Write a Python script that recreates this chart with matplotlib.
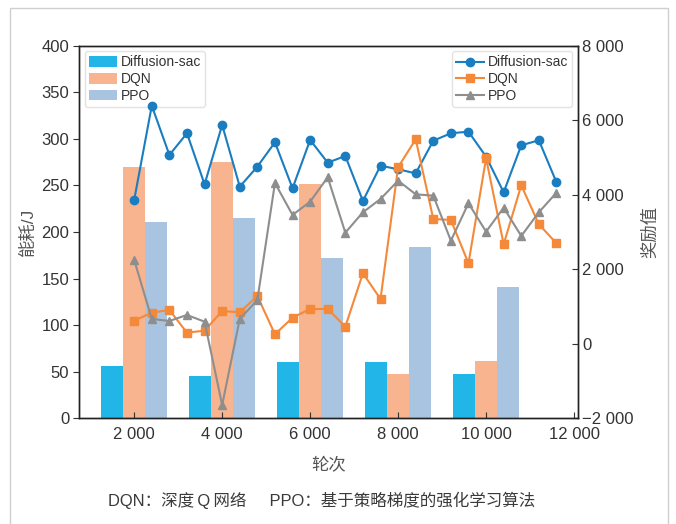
import matplotlib
matplotlib.use("Agg")
import matplotlib.pyplot as plt
from matplotlib.patches import Rectangle
from matplotlib.ticker import FuncFormatter, MultipleLocator
import numpy as np

plt.rcParams['font.family'] = ['Liberation Sans', 'Noto Sans CJK SC', 'DejaVu Sans']
plt.rcParams['axes.unicode_minus'] = True

# Energy consumption (bars) at evaluation checkpoints
bar_rounds = [2000, 4000, 6000, 8000, 10000]
energy_diffusion = [56, 45, 60, 60, 48]
energy_dqn = [270, 275, 252, 48, 62]
energy_ppo = [211, 215, 172, 184, 141]

# Reward curves, sampled every 400 rounds
reward_rounds = list(range(2000, 11601, 400))
reward_diffusion = [3860, 6390, 5067, 5650, 4280, 5873, 4217, 4754, 5408, 4173,
                    5470, 4861, 5040, 3833, 4781, 4683, 4575, 5450, 5650, 5693,
                    5022, 4066, 5327, 5462, 4335]
reward_dqn = [620, 835, 907, 298, 352, 880, 845, 1283, 255, 701,
              934, 934, 459, 1892, 1202, 4737, 5489, 3350, 3323, 2160,
              4979, 2670, 4254, 3207, 2697]
reward_ppo = [2249, 666, 612, 773, 593, -1643, 666, 1175, 4316, 3457,
              3814, 4469, 2982, 3529, 3886, 4378, 4012, 3975, 2767, 3771,
              3009, 3653, 2893, 3529, 4055]

x_ticks = [2000, 4000, 6000, 8000, 10000, 12000]

c_bar_diff = '#22B5E8'
c_bar_dqn = '#F7B48E'
c_bar_ppo = '#A9C4E0'
c_line_diff = '#1A7DC0'
c_line_dqn = '#F5893A'
c_line_ppo = '#8E8E8E'
text_c = '#333333'

W, H = 676, 524
fig = plt.figure(figsize=(W / 100, H / 100), dpi=100)

# light outer frame
fig.patches.append(Rectangle((10 / W, -0.01), 658 / W, (H - 8) / H + 0.01,
                             transform=fig.transFigure, fill=False,
                             edgecolor='#CFCFCF', linewidth=1.0))

ax = fig.add_axes([79 / W, (H - 418.3) / H, 499 / W, 372.6 / H])
ax2 = ax.twinx()

bw = 500
bx = np.array(bar_rounds, dtype=float)
ax.bar(bx - bw, energy_diffusion, width=bw, color=c_bar_diff, label='Diffusion-sac')
ax.bar(bx, energy_dqn, width=bw, color=c_bar_dqn, label='DQN')
ax.bar(bx + bw, energy_ppo, width=bw, color=c_bar_ppo, label='PPO')

ax2.plot(reward_rounds, reward_diffusion, color=c_line_diff, marker='o',
         markersize=6, linewidth=1.5, label='Diffusion-sac')
ax2.plot(reward_rounds, reward_dqn, color=c_line_dqn, marker='s',
         markersize=5.5, linewidth=1.5, label='DQN')
ax2.plot(reward_rounds, reward_ppo, color=c_line_ppo, marker='^',
         markersize=6, linewidth=1.5, label='PPO')

ax.set_xlim(745, 12090)
ax.set_ylim(0, 400)
ax2.set_ylim(-2000, 8000)
ax.set_xticks(x_ticks)
ax.yaxis.set_major_locator(MultipleLocator(50))
ax2.set_yticks([-2000, 0, 2000, 4000, 6000, 8000])


def thousands(v, pos):
    s = f"{abs(v):,.0f}".replace(",", " ")
    return ("\u2212" + s) if v < 0 else s


ax.xaxis.set_major_formatter(FuncFormatter(thousands))
ax2.yaxis.set_major_formatter(FuncFormatter(thousands))

ax.tick_params(axis='y', direction='out', length=4, labelsize=12,
               colors=text_c, pad=3)
ax.tick_params(axis='x', direction='in', length=4, labelsize=12,
               colors=text_c, pad=6)
ax2.tick_params(axis='y', direction='in', length=4, labelsize=12,
                colors=text_c, pad=3)
for a in (ax, ax2):
    for s in a.spines.values():
        s.set_color('#222222')
        s.set_linewidth(1.0)

ax.set_ylabel('能耗/J', fontsize=12.5, color='#555555', labelpad=4)
ax2.set_ylabel('奖励值', fontsize=12.5, color='#555555', labelpad=6)
ax.set_xlabel('轮次', fontsize=12.5, color='#555555', labelpad=11)

leg1 = ax.legend(loc='upper left', fontsize=10, frameon=True, fancybox=True,
                 handlelength=2.0, handleheight=0.8, borderpad=0.3,
                 labelspacing=0.2, handletextpad=0.3, borderaxespad=0.4)
leg1.get_frame().set_edgecolor('#DDDDDD')
leg2 = ax2.legend(loc='upper right', fontsize=10, frameon=True, fancybox=True,
                  handlelength=2.0, borderpad=0.3, labelspacing=0.2,
                  handletextpad=0.3, borderaxespad=0.4)
leg2.get_frame().set_edgecolor('#DDDDDD')
for leg in (leg1, leg2):
    for t in leg.get_texts():
        t.set_color(text_c)

fig.text(322 / W, 1 - 500 / H,
         'DQN：深度\u2009Q\u2009网络     PPO：基于策略梯度的强化学习算法',
         ha='center', va='center', fontsize=11.9, color='#3a3a3a',
         family=['Liberation Sans', 'Noto Sans CJK SC', 'DejaVu Sans'])

fig.savefig('out.png', dpi=100)
